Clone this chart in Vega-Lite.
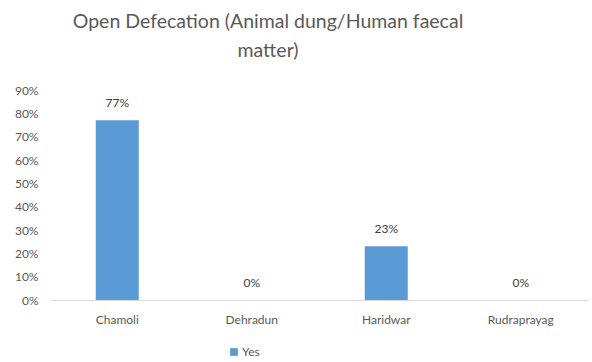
{
  "$schema": "https://vega.github.io/schema/vega-lite/v6.json",
  "width": 538,
  "height": 210,
  "autosize": {"type": "none"},
  "padding": {"left": 50, "top": 90, "right": 4, "bottom": 62},
  "background": "white",
  "title": {
    "text": ["Open Defecation (Animal dung/Human faecal", "matter)"],
    "font": "Lato",
    "fontSize": 19.5,
    "fontWeight": "normal",
    "color": "#595959",
    "anchor": "middle",
    "dx": -51,
    "offset": 23,
    "lineHeight": 29
  },
  "data": {
    "values": [
      {"district": "Chamoli", "series": "Yes", "share": 0.77},
      {"district": "Dehradun", "series": "Yes", "share": 0.0},
      {"district": "Haridwar", "series": "Yes", "share": 0.23},
      {"district": "Rudraprayag", "series": "Yes", "share": 0.0}
    ]
  },
  "encoding": {
    "x": {
      "field": "district",
      "type": "nominal",
      "sort": null,
      "scale": {"paddingInner": 0.68, "paddingOuter": 0.34},
      "axis": {
        "title": null,
        "labelAngle": 0,
        "labelFont": "Lato",
        "labelFontSize": 12,
        "labelColor": "#595959",
        "labelPadding": 14,
        "ticks": false,
        "domainColor": "#d9d9d9",
        "domainWidth": 1
      }
    },
    "y": {
      "field": "share",
      "type": "quantitative",
      "scale": {"domain": [0, 0.9]},
      "axis": {
        "title": null,
        "format": ".0%",
        "values": [0, 0.1, 0.2, 0.3, 0.4, 0.5, 0.6, 0.7, 0.8, 0.9],
        "labelOverlap": false,
        "labelFont": "Lato",
        "labelFontSize": 12,
        "labelColor": "#595959",
        "labelPadding": 12,
        "ticks": false,
        "domain": false,
        "grid": false
      }
    }
  },
  "layer": [
    {
      "mark": {"type": "bar"},
      "encoding": {
        "color": {
          "field": "series",
          "type": "nominal",
          "scale": {"range": ["#5B9BD5"]},
          "legend": {
            "title": null,
            "orient": "none",
            "legendX": 178,
            "legendY": 256,
            "symbolType": "square",
            "symbolSize": 60,
            "labelFont": "Lato",
            "labelFontSize": 12,
            "labelColor": "#595959",
            "labelOffset": 2
          }
        }
      }
    },
    {
      "mark": {
        "type": "text",
        "baseline": "bottom",
        "dy": -10,
        "font": "Lato",
        "fontSize": 12,
        "color": "#404040"
      },
      "encoding": {
        "text": {"field": "share", "type": "quantitative", "format": ".0%"}
      }
    }
  ],
  "config": {"view": {"stroke": null}}
}
